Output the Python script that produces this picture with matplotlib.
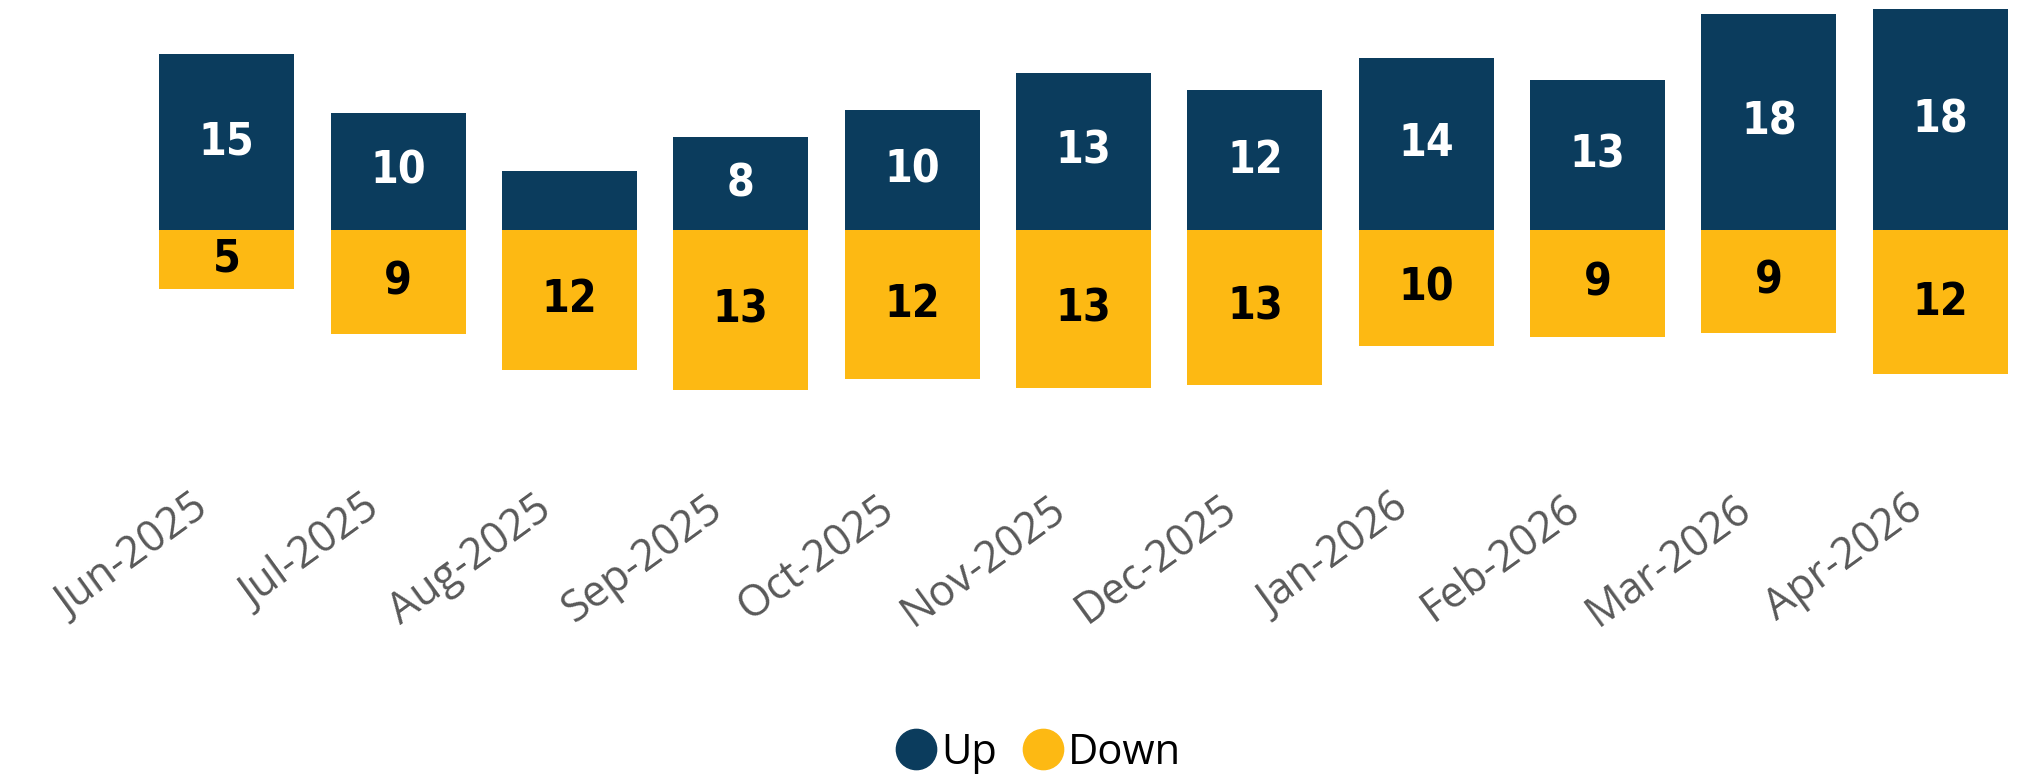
import matplotlib
matplotlib.use("Agg")
import matplotlib.pyplot as plt
import matplotlib.transforms as mtransforms
from matplotlib import font_manager
from matplotlib.lines import Line2D
import numpy as np

months = ["Jun-2025", "Jul-2025", "Aug-2025", "Sep-2025", "Oct-2025", "Nov-2025",
          "Dec-2025", "Jan-2026", "Feb-2026", "Mar-2026", "Apr-2026"]
up_values = [15, 10, 5.0, 7.9, 10.2, 13.4, 11.9, 14.7, 12.8, 18.4, 18.8]
down_values = [5, 8.9, 11.9, 13.6, 12.7, 13.5, 13.2, 9.9, 9.1, 8.75, 12.3]
up_labels = ["15", "10", "", "8", "10", "13", "12", "14", "13", "18", "18"]
down_labels = ["5", "9", "12", "13", "12", "13", "13", "10", "9", "9", "12"]

UP_COLOR = "#0B3C5D"
DOWN_COLOR = "#FDB913"
W, H = 2024, 778

installed = {f.name for f in font_manager.fontManager.ttflist}
narrow_stretch = {f.name for f in font_manager.fontManager.ttflist
                  if f.stretch in ("condensed", "semi-condensed", "extra-condensed", 600, 700, 750)}
if "Liberation Sans Narrow" in installed:
    lab_font = dict(family=["Liberation Sans Narrow", "DejaVu Sans"], fontweight="bold", fontsize=36)
elif "DejaVu Sans" in narrow_stretch:
    lab_font = dict(family=["DejaVu Sans"], fontstretch="condensed", fontweight="bold", fontsize=32)
else:
    lab_font = dict(family=["Roboto", "DejaVu Sans"], fontweight="bold", fontsize=33)

fig = plt.figure(figsize=(W / 100, H / 100), dpi=100)
ax = fig.add_axes([141 / W, 1 - 470 / H, 1885 / W, 470 / H])

x = np.arange(len(months))
bw = 0.788
ax.bar(x, up_values, width=bw, color=UP_COLOR, linewidth=0)
ax.bar(x, [-v for v in down_values], width=bw, color=DOWN_COLOR, linewidth=0)

unit = 11.73
ax.set_ylim(-(470 - 230) / unit, 230 / unit)
ax.set_xlim(-0.5, len(months) - 0.5)

for xi, v, t in zip(x, up_values, up_labels):
    if t:
        ax.text(xi, v / 2, t, ha="center", va="center", color="white", **lab_font)
for xi, v, t in zip(x, down_values, down_labels):
    if t:
        ax.text(xi, -v / 2, t, ha="center", va="center", color="black", **lab_font)

ax.set_xticks(x)
ax.set_xticklabels(months, rotation=36, ha="right", va="center", rotation_mode="anchor",
                   fontsize=31, color="#595959", family=["Open Sans", "DejaVu Sans"])
ax.tick_params(axis="x", length=0, pad=25)
offset = mtransforms.ScaledTranslation(-22 / 100, 0, fig.dpi_scale_trans)
for lbl in ax.get_xticklabels():
    lbl.set_transform(lbl.get_transform() + offset)
ax.set_yticks([])
for s in ax.spines.values():
    s.set_visible(False)

handles = [Line2D([], [], marker="o", linestyle="none", markersize=29, color=UP_COLOR),
           Line2D([], [], marker="o", linestyle="none", markersize=29, color=DOWN_COLOR)]
fig.legend(handles, ["Up", "Down"], loc="center", bbox_to_anchor=(1038 / W, 1 - 753 / H),
           ncol=2, frameon=False, handletextpad=0.1, columnspacing=0.6, handlelength=1.0,
           prop={"family": ["Open Sans", "DejaVu Sans"], "size": 30})

fig.savefig("out.png", dpi=100, facecolor="white")
